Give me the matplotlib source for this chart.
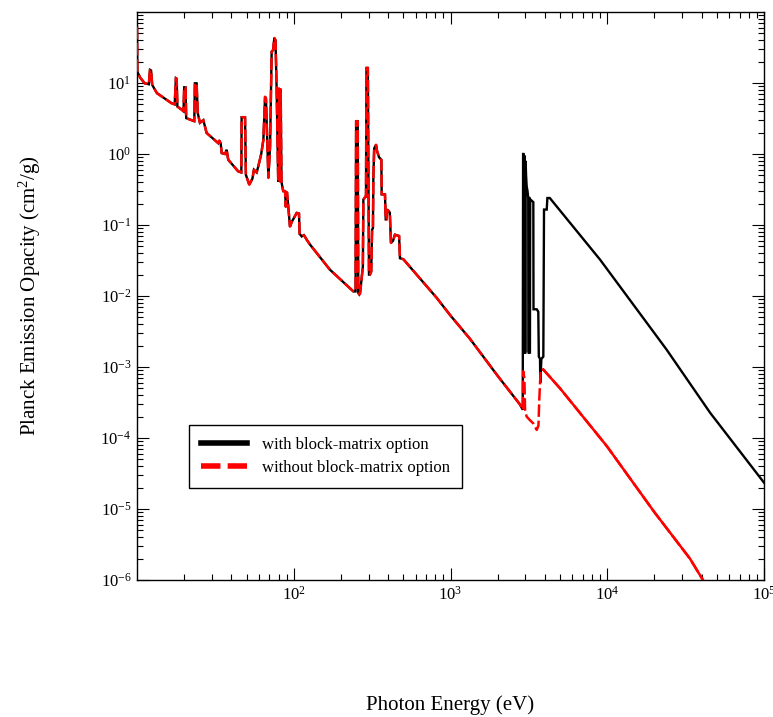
import numpy as np
import matplotlib
matplotlib.use("Agg")
import matplotlib.pyplot as plt
from matplotlib.lines import Line2D
from matplotlib.ticker import FixedLocator, NullFormatter

plt.rcParams['font.family'] = ['Liberation Serif', 'DejaVu Serif']
plt.rcParams['mathtext.fontset'] = 'custom'
plt.rcParams['mathtext.rm'] = 'Liberation Serif'
plt.rcParams['mathtext.it'] = 'Liberation Serif:italic'
plt.rcParams['axes.unicode_minus'] = False

# ---- data (photon energy in eV, opacity in cm^2/g) ----
# shared part of both curves (10 eV - 2.85 keV)
energy_shared = [10.0, 10.05, 10.45, 11.2, 11.9, 12.1, 12.3, 12.5, 13.4, 16.6, 17.4, 17.7, 17.9, 18.1,
                 19.3, 19.8, 20.0, 20.4, 20.6, 22.3, 23.2, 23.4, 24.0, 24.4, 25.2, 26.5, 27.8,
                 33.0, 33.5, 34.2, 34.7, 36.5, 37.3, 38.2, 44.2, 46.3, 46.5, 48.9, 49.5, 52.0,
                 54.5, 55.7, 58.0, 59.4, 62.0, 64.0, 65.6, 66.5, 68.9, 70.6, 72.3, 73.8, 75.2,
                 76.5, 77.8, 79.6, 80.5, 81.6, 82.5, 83.5, 84.5, 85.7, 88.0, 89.0, 90.5, 92.3,
                 94.6, 97.0, 101.0, 104.4, 108.0, 109.0, 112.5, 116.0, 118.0, 121.0, 127.0,
                 170.0, 240.0, 248.0, 250.0, 256.0, 258.0, 262.0, 265.0, 276.0, 278.0, 286.0,
                 289.0, 291.0, 297.0, 302.0, 306.0, 312.0, 316.0, 320.0, 322.0, 326.0, 335.0,
                 340.0, 350.0, 362.0, 364.0, 382.0, 386.0, 390.0, 396.0, 410.0, 417.0, 430.0,
                 442.0, 470.0, 476.0, 500.0, 817.0, 1000.0, 1330.0, 2000.0, 2773.0, 2845.0]
opacity_shared = [62.0, 14.5, 12.0, 9.9, 9.6, 15.3, 15.0, 9.4, 7.2, 5.2, 5.0, 11.7, 11.5, 4.66,
                  4.2, 4.0, 8.7, 8.7, 3.2, 3.0, 2.9, 9.9, 9.9, 3.8, 2.75, 3.0, 1.98,
                  1.42, 1.55, 1.4, 1.03, 1.0, 1.15, 0.83, 0.57, 0.55, 3.3, 3.3, 0.51, 0.37,
                  0.45, 0.6, 0.55, 0.67, 1.0, 1.58, 6.4, 6.0, 0.46, 1.28, 27.7, 29.0, 43.0,
                  40.0, 8.0, 0.41, 8.4, 0.41, 8.2, 0.41, 0.35, 0.30, 0.30, 0.18, 0.29, 0.18,
                  0.095, 0.11, 0.13, 0.148, 0.145, 0.075, 0.069, 0.072, 0.068, 0.062, 0.053,
                  0.0235, 0.0116, 0.0116, 2.9, 2.9, 0.011, 0.0105, 0.011, 0.026, 0.227, 0.25,
                  0.25, 16.3, 16.3, 0.02, 0.02, 0.022, 0.086, 0.09, 0.46, 1.2, 1.35,
                  1.1, 0.9, 0.83, 0.27, 0.27, 0.12, 0.12, 0.164, 0.15, 0.056, 0.06,
                  0.073, 0.07, 0.034, 0.033, 0.0094, 0.0053, 0.0025, 0.00075, 0.000297, 0.000267]

# with block-matrix option (above 2.85 keV)
energy_with = [2890.0, 2905.0, 2925.0, 2935.0, 2950.0, 2960.0, 2980.0, 2990.0, 3005.0, 3015.0,
               3035.0, 3062.0, 3100.0, 3135.0, 3150.0, 3165.0, 3175.0, 3190.0, 3200.0, 3212.0,
               3225.0, 3300.0, 3376.0, 3385.0, 3550.0, 3631.0, 3660.0, 3725.0, 3740.0, 3800.0,
               3910.0, 3950.0, 4110.0, 4150.0, 4300.0, 9000.0, 23900.0, 45300.0, 100000.0]
opacity_with = [2.5e-4, 1.0, 1.0, 1.6e-3, 1.6e-3, 0.95, 0.9, 1.6e-3, 1.6e-3, 0.8,
                0.5, 0.35, 0.3, 0.24, 1.6e-3, 1.6e-3, 0.24, 0.24, 1.6e-3, 1.6e-3,
                0.23, 0.22, 0.21, 6.5e-3, 6.5e-3, 6.0e-3, 1.4e-3, 1.3e-3, 6.0e-4, 1.3e-3,
                1.4e-3, 0.165, 0.165, 0.24, 0.24, 0.0325, 1.76e-3, 2.27e-4, 2.35e-5]

# without block-matrix option (above 2.85 keV)
energy_without = [2895.0, 2910.0, 2960.0, 2990.0, 3060.0, 3200.0, 3376.0, 3550.0, 3640.0, 3685.0,
                  3760.0, 3910.0, 5000.0, 9930.0, 20000.0, 33700.0, 45000.0]
opacity_without = [2.5e-4, 8.7e-4, 7.0e-4, 2.5e-4, 2.0e-4, 1.8e-4, 1.6e-4, 1.3e-4, 1.5e-4, 3.5e-4,
                   9.2e-4, 9.2e-4, 5.0e-4, 7.7e-5, 9.0e-6, 2.0e-6, 7.0e-7]

legend_labels = ["with block-matrix option", "without block-matrix option"]
x_major = [1e2, 1e3, 1e4, 1e5]
y_major = [1e-6, 1e-5, 1e-4, 1e-3, 1e-2, 1e-1, 1e0, 1e1]

E_with = np.array(energy_shared + energy_with)
K_with = np.array(opacity_shared + opacity_with)
E_without = np.array(energy_shared + energy_without)
K_without = np.array(opacity_shared + opacity_without)

fig = plt.figure(figsize=(7.73, 7.17), dpi=100)
ax = fig.add_axes([137/773, 1 - 580/717, (764 - 137)/773, (580 - 12)/717])

ax.plot(E_with, K_with, color='black', lw=1.7, solid_joinstyle='miter', zorder=2)
ax.plot(E_without, K_without, color='#ff0000', lw=1.8, dashes=(5, 1.5), zorder=3)
# beyond the L-shell feature the red curve is drawn continuously in the original
tail = E_without >= 3910.0
ax.plot(E_without[tail], K_without[tail], color='#ff0000', lw=1.8, zorder=3)

ax.set_xscale('log')
ax.set_yscale('log')
ax.set_xlim(10, 1e5)
ax.set_ylim(1e-6, 1e2)

def fmt(v):
    return r'$\mathregular{10^{%d}}$' % int(round(np.log10(v)))

ax.xaxis.set_major_locator(FixedLocator(x_major))
ax.set_xticklabels([fmt(v) for v in x_major])
ax.yaxis.set_major_locator(FixedLocator(y_major))
ax.set_yticklabels([fmt(v) for v in y_major])
xminor = [m * 10.0**d for d in range(1, 5) for m in range(2, 10)]
yminor = [m * 10.0**d for d in range(-6, 2) for m in range(2, 10)]
ax.xaxis.set_minor_locator(FixedLocator(xminor))
ax.yaxis.set_minor_locator(FixedLocator(yminor))
ax.xaxis.set_minor_formatter(NullFormatter())
ax.yaxis.set_minor_formatter(NullFormatter())

ax.tick_params(which='both', direction='in', top=True, right=True, width=0.8, colors='black')
ax.tick_params(which='major', length=8.5, labelsize=12, pad=4)
ax.tick_params(which='minor', length=4.3)
for s in ax.spines.values():
    s.set_linewidth(1.0)

fig.text(450/773, 1 - 705/717, 'Photon Energy (eV)', ha='center', va='center', fontsize=15)
fig.text(30/773, 1 - 296/717, 'Planck Emission Opacity (cm$^2$/g)', ha='center', va='center',
         rotation=90, fontsize=15)

handles = [Line2D([], [], color='black', lw=4),
           Line2D([], [], color='#ff0000', lw=4, dashes=(3.5, 1.3))]
leg = ax.legend(handles, legend_labels, loc='upper left',
                bbox_to_anchor=((189 - 137)/627, (580 - 425)/568), borderaxespad=0,
                fancybox=False, framealpha=1, edgecolor='black', fontsize=12,
                handlelength=2.8, handletextpad=0.9, labelspacing=0.45,
                borderpad=0.7)
leg.get_frame().set_linewidth(1.0)

fig.savefig('out.png', dpi=100)
